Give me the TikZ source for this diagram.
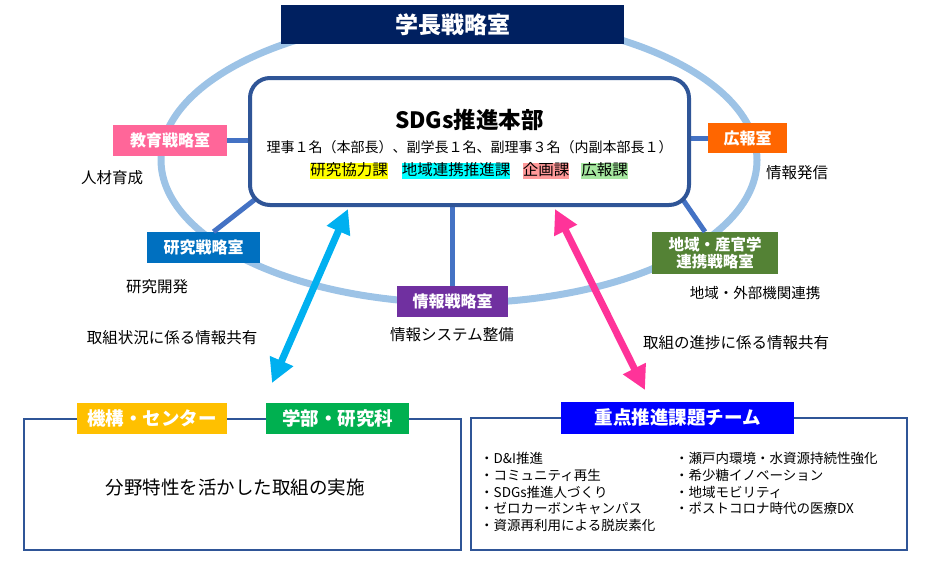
\documentclass[tikz,border=0pt]{standalone}
\usepackage{fontspec}
\setmainfont{Noto Sans CJK JP}
\usetikzlibrary{arrows.meta,calc}
\definecolor{navy}{HTML}{002060}
\definecolor{ellblue}{HTML}{9DC3E6}
\definecolor{boxblue}{HTML}{2F5597}
\definecolor{conblue}{HTML}{4472C4}
\definecolor{kyoikupink}{HTML}{FF6699}
\definecolor{kenkyublue}{HTML}{0070C0}
\definecolor{kohoorange}{HTML}{FF6600}
\definecolor{chiikigreen}{HTML}{548235}
\definecolor{johopurple}{HTML}{7030A0}
\definecolor{kikoyellow}{HTML}{FFC000}
\definecolor{gakubugreen}{HTML}{00B050}
\definecolor{teamblue}{HTML}{0000FF}
\definecolor{arrcyan}{HTML}{00B0F0}
\definecolor{arrpink}{HTML}{FF3399}
\definecolor{hlyellow}{HTML}{FFFF00}
\definecolor{hlcyan}{HTML}{00FFFF}
\definecolor{hlpink}{HTML}{FF9999}
\definecolor{hlgreen}{HTML}{A6E8A0}
\newcommand{\fs}[1]{\fontsize{#1}{#1}\selectfont}
\tikzset{
  lab/.style={fill=#1, text=white, font=\fs{16}\bfseries, inner sep=0pt, align=center},
  con/.style={draw=conblue, line width=5pt},
  plain/.style={font=\fs{15.5}, inner sep=0pt},
  hl/.style={fill=#1, font=\fs{15.5}, inner xsep=0pt, text height=12.5pt, text depth=3.5pt, inner ysep=0pt},
  frame/.style={draw=boxblue, line width=1.5pt, fill=white, inner sep=0pt},
  biarrow/.style={line width=7pt, draw=#1, {Triangle[length=24pt,width=24pt]}-{Triangle[length=24pt,width=24pt]}},
}
\begin{document}
\begin{tikzpicture}[x=1pt,y=-1pt]
\useasboundingbox (0,0) rectangle (941,566);
% ellipse
\draw[ellblue, line width=7pt] (459,160) ellipse [x radius=298pt, y radius=143pt];
% bottom frames
\node[frame, minimum width=437pt, minimum height=131pt] (leftbox) at (242.5,484.5) {};
\node[frame, minimum width=436pt, minimum height=132pt] (rightbox) at (689,484) {};
% side boxes
\node[lab=kyoikupink, minimum width=114pt, minimum height=31pt] (kyoiku) at (170,140.5) {教育戦略室};
\node[lab=kenkyublue, minimum width=113pt, minimum height=31pt] (kenkyu) at (203.5,247.5) {研究戦略室};
\node[lab=kohoorange, minimum width=79pt, minimum height=30pt] (koho) at (747.5,138) {広報室};
\node[lab=chiikigreen, minimum width=126pt, minimum height=42pt, font=\fontsize{15.5}{17}\selectfont\bfseries] (chiiki) at (715,253) {地域・産官学\\連携戦略室};
\node[lab=johopurple, minimum width=111pt, minimum height=31pt] (joho) at (452.5,301.5) {情報戦略室};
% connectors
\path (469.5,141.5) node[minimum width=439pt, minimum height=127pt, inner sep=0pt] (sdgs) {};
\draw[con] (kyoiku.east) -- (kyoiku.east -| sdgs.west);
\draw[con] (koho.west) -- (koho.west -| sdgs.east);
\draw[con] ($(kenkyu.north)+(10,0)$) -- ($(sdgs.south west)+(8,-8)$);
\draw[con] ($(chiiki.north)+(-10,0)$) -- ($(sdgs.south east)+(-8,-8)$);
\draw[con] (joho.north) -- (joho.north |- sdgs.south);
% main box on top of connectors
\node[draw=boxblue, line width=4pt, rounded corners=20pt, fill=white, minimum width=439pt, minimum height=127pt] (sdgsbox) at (sdgs) {};
\node[font=\fs{22.5}\bfseries, inner sep=0pt] (sdgstitle) at (469.5,120) {SDGs推進本部};
\node[font=\fs{14}, inner sep=0pt] (members) at (469.5,147) {理事１名（本部長）、副学長１名、副理事３名（内副本部長１）};
\node[hl=hlyellow] (ka1) at (349,171) {研究協力課};
\node[hl=hlcyan] (ka2) at (456,171) {地域連携推進課};
\node[hl=hlpink] (ka3) at (546,171) {企画課};
\node[hl=hlgreen] (ka4) at (604.5,171) {広報課};
% title
\node[fill=navy, text=white, font=\fs{23}\bfseries, minimum width=343pt, minimum height=39pt, inner sep=0pt] (title) at (452.5,24.5) {学長戦略室};
% descriptions
\node[plain] (d1) at (112,178) {人材育成};
\node[plain] (d2) at (157,287) {研究開発};
\node[plain] (d3) at (797,173) {情報発信};
\node[plain, font=\fs{14.5}] (d4) at (755,293) {地域・外部機関連携};
\node[plain] (d5) at (452,335) {情報システム整備};
\node[plain] (s1) at (172,338) {取組状況に係る情報共有};
\node[plain] (s2) at (736,343) {取組の進捗に係る情報共有};
% bottom labels
\node[lab=kikoyellow, minimum width=150pt, minimum height=31pt, font=\fs{18.5}\bfseries] (kiko) at (152,418.5) {機構・センター};
\node[lab=gakubugreen, minimum width=143pt, minimum height=31pt, font=\fs{18.5}\bfseries] (gakubu) at (337.5,418.5) {学部・研究科};
\node[lab=teamblue, minimum width=233pt, minimum height=32pt, font=\fs{18.5}\bfseries] (team) at (677.5,418) {重点推進課題チーム};
\node[plain, font=\fs{18.5}] (jisshi) at (235,487) {分野特性を活かした取組の実施};
\node[plain, font=\fontsize{13.5}{16.8}\selectfont, align=left, anchor=north west] (list1) at (480,452) {・D\&I推進\\・コミュニティ再生\\・SDGs推進人づくり\\・ゼロカーボンキャンパス\\・資源再利用による脱炭素化};
\node[plain, font=\fontsize{13.5}{16.8}\selectfont, align=left, anchor=north west] (list2) at (675,452) {・瀬戸内環境・水資源持続性強化\\・希少糖イノベーション\\・地域モビリティ\\・ポストコロナ時代の医療DX};
% arrows
\coordinate (a1s) at (348,209);
\coordinate (a1e) at (272,383);
\coordinate (a2s) at (555,209);
\coordinate (a2e) at (645,390);
\draw[biarrow=arrcyan] (a1s) -- (a1e);
\draw[biarrow=arrpink] (a2s) -- (a2e);
\end{tikzpicture}
\end{document}
